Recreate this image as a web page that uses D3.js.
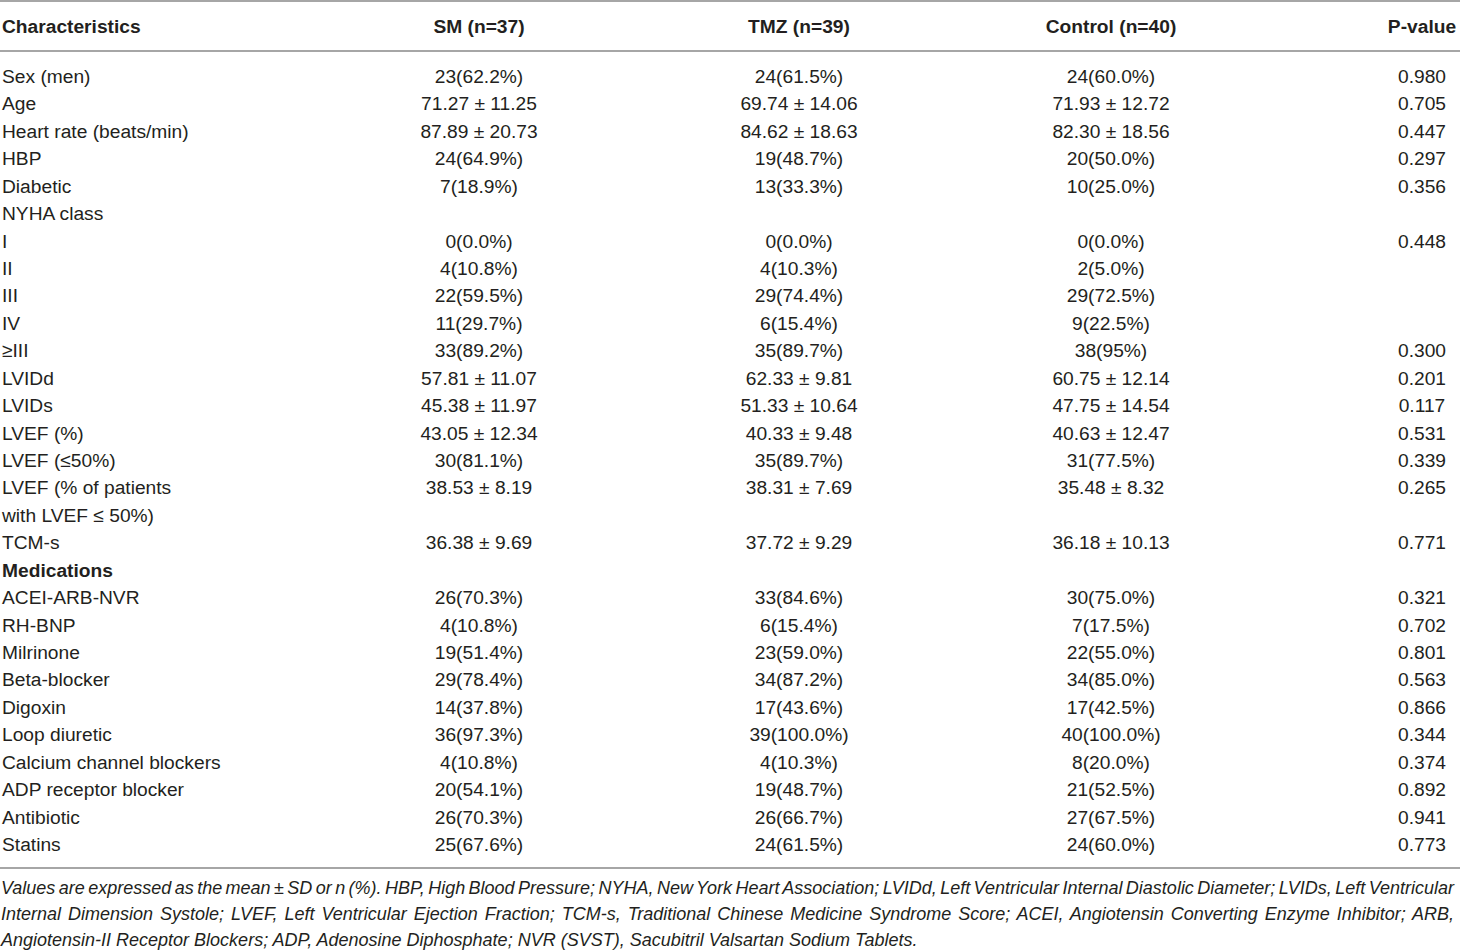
<!DOCTYPE html>
<html>
<head>
<meta charset="utf-8">
<script src="https://cdn.jsdelivr.net/npm/d3@7"></script>
<style>
  html, body { margin: 0; padding: 0; background: #fff; }
  svg { display: block; }
  text { font-family: "Liberation Sans", Arial, Helvetica, sans-serif; fill: #231f20; }
</style>
</head>
<body>
<svg id="table"></svg>
<script>
const width = 1460, height = 951;

// header
const headers = ["Characteristics", "SM (n=37)", "TMZ (n=39)", "Control (n=40)", "P-value"];

// row labels (wrapped second line of a label is its own row)
const labels = [
  "Sex (men)", "Age", "Heart rate (beats/min)", "HBP", "Diabetic", "NYHA class",
  "I", "II", "III", "IV", "\u2265III", "LVIDd", "LVIDs", "LVEF (%)", "LVEF (\u226450%)",
  "LVEF (% of patients", "with LVEF \u2264 50%)", "TCM-s", "Medications",
  "ACEI-ARB-NVR", "RH-BNP", "Milrinone", "Beta-blocker", "Digoxin", "Loop diuretic",
  "Calcium channel blockers", "ADP receptor blocker", "Antibiotic", "Statins"
];
const boldRows = ["Medications"];

const smValues = [
  "23(62.2%)", "71.27 \u00b1 11.25", "87.89 \u00b1 20.73", "24(64.9%)", "7(18.9%)", "",
  "0(0.0%)", "4(10.8%)", "22(59.5%)", "11(29.7%)", "33(89.2%)", "57.81 \u00b1 11.07",
  "45.38 \u00b1 11.97", "43.05 \u00b1 12.34", "30(81.1%)", "38.53 \u00b1 8.19", "",
  "36.38 \u00b1 9.69", "", "26(70.3%)", "4(10.8%)", "19(51.4%)", "29(78.4%)", "14(37.8%)",
  "36(97.3%)", "4(10.8%)", "20(54.1%)", "26(70.3%)", "25(67.6%)"
];
const tmzValues = [
  "24(61.5%)", "69.74 \u00b1 14.06", "84.62 \u00b1 18.63", "19(48.7%)", "13(33.3%)", "",
  "0(0.0%)", "4(10.3%)", "29(74.4%)", "6(15.4%)", "35(89.7%)", "62.33 \u00b1 9.81",
  "51.33 \u00b1 10.64", "40.33 \u00b1 9.48", "35(89.7%)", "38.31 \u00b1 7.69", "",
  "37.72 \u00b1 9.29", "", "33(84.6%)", "6(15.4%)", "23(59.0%)", "34(87.2%)", "17(43.6%)",
  "39(100.0%)", "4(10.3%)", "19(48.7%)", "26(66.7%)", "24(61.5%)"
];
const controlValues = [
  "24(60.0%)", "71.93 \u00b1 12.72", "82.30 \u00b1 18.56", "20(50.0%)", "10(25.0%)", "",
  "0(0.0%)", "2(5.0%)", "29(72.5%)", "9(22.5%)", "38(95%)", "60.75 \u00b1 12.14",
  "47.75 \u00b1 14.54", "40.63 \u00b1 12.47", "31(77.5%)", "35.48 \u00b1 8.32", "",
  "36.18 \u00b1 10.13", "", "30(75.0%)", "7(17.5%)", "22(55.0%)", "34(85.0%)", "17(42.5%)",
  "40(100.0%)", "8(20.0%)", "21(52.5%)", "27(67.5%)", "24(60.0%)"
];
const pValues = [
  "0.980", "0.705", "0.447", "0.297", "0.356", "",
  "0.448", "", "", "", "0.300", "0.201",
  "0.117", "0.531", "0.339", "0.265", "",
  "0.771", "", "0.321", "0.702", "0.801", "0.563", "0.866",
  "0.344", "0.374", "0.892", "0.941", "0.773"
];

const footnoteLines = [
  "Values are expressed as the mean \u00b1 SD or n (%). HBP, High Blood Pressure; NYHA, New York Heart Association; LVIDd, Left Ventricular Internal Diastolic Diameter; LVIDs, Left Ventricular",
  "Internal Dimension Systole; LVEF, Left Ventricular Ejection Fraction; TCM-s, Traditional Chinese Medicine Syndrome Score; ACEI, Angiotensin Converting Enzyme Inhibitor; ARB,",
  "Angiotensin-II Receptor Blockers; ADP, Adenosine Diphosphate; NVR (SVST), Sacubitril Valsartan Sodium Tablets."
];

const svg = d3.select("#table").attr("width", width).attr("height", height);

// column centres for the value columns
const colX = d3.scaleOrdinal()
  .domain(["sm", "tmz", "control", "p"])
  .range([479, 799, 1111, 1422]);

// row baselines
const rowY = d3.scaleLinear().domain([0, labels.length - 1]).range([83, 851]);

const fontSize = 19.2;

// rules
const rules = [1, 51, 868];
svg.selectAll("line.rule")
  .data(rules)
  .join("line")
  .attr("class", "rule")
  .attr("x1", 0).attr("x2", width)
  .attr("y1", d => d).attr("y2", d => d)
  .attr("stroke", "#a6a6a6")
  .attr("stroke-width", 2);

// header row
const headerG = svg.append("g").attr("font-weight", "bold").attr("font-size", fontSize);
headerG.append("text").attr("x", 2).attr("y", 33).text(headers[0]);
headerG.selectAll("text.col")
  .data(colX.domain())
  .join("text")
  .attr("class", "col")
  .attr("x", d => colX(d))
  .attr("y", 33)
  .attr("text-anchor", "middle")
  .text((d, i) => headers[i + 1]);

// body rows
const rows = labels.map((label, i) => ({
  label,
  sm: smValues[i],
  tmz: tmzValues[i],
  control: controlValues[i],
  p: pValues[i],
  i
}));

const rowG = svg.append("g").attr("font-size", fontSize)
  .selectAll("g.row")
  .data(rows)
  .join("g")
  .attr("class", "row")
  .attr("transform", d => `translate(0,${rowY(d.i)})`);

rowG.append("text")
  .attr("x", 2)
  .attr("font-weight", d => boldRows.includes(d.label) ? "bold" : null)
  .text(d => d.label);

colX.domain().forEach(key => {
  rowG.append("text")
    .attr("x", colX(key))
    .attr("text-anchor", "middle")
    .text(d => d[key]);
});

// footnote: full lines justified through word spacing, last line left as is
const noteY = d3.scaleLinear().domain([0, 2]).range([894, 946]);
const noteG = svg.append("g").attr("font-size", 18).attr("font-style", "italic");
noteG.selectAll("text")
  .data(footnoteLines)
  .join("text")
  .attr("x", 1)
  .attr("y", (d, i) => noteY(i))
  .text(d => d)
  .each(function (d, i) {
    if (i === footnoteLines.length - 1) return;
    const gaps = d.split(" ").length - 1;
    const spare = 1453 - this.getComputedTextLength();
    d3.select(this).attr("word-spacing", spare / gaps);
  });
</script>
</body>
</html>
